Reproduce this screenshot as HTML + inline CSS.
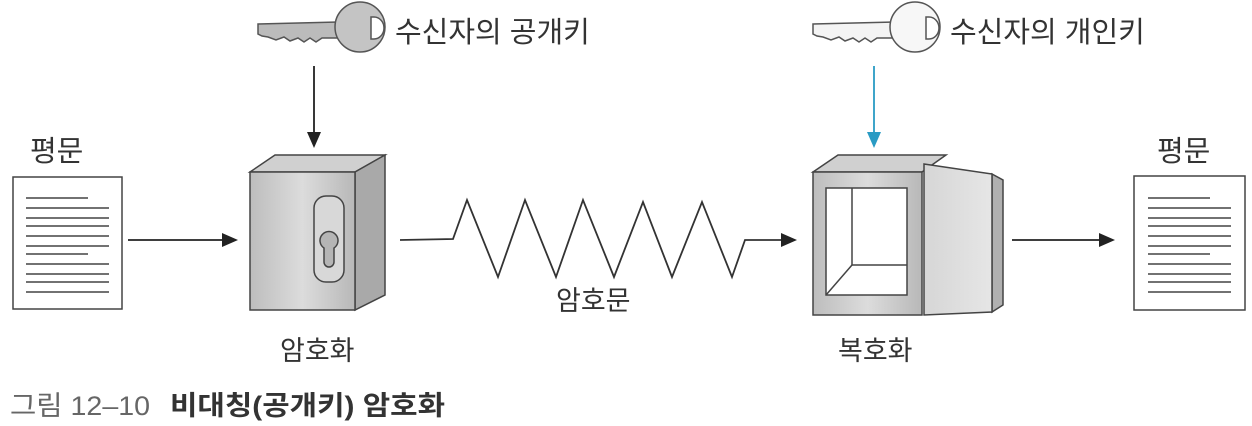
<!DOCTYPE html>
<html><head><meta charset="utf-8"><style>
html,body{margin:0;padding:0;background:#fff;}
svg{display:block;}
text{font-family:"Liberation Sans","Noto Sans CJK KR",sans-serif;}
</style></head><body>
<svg width="1252" height="426" viewBox="0 0 1252 426" xmlns="http://www.w3.org/2000/svg">
<defs>
<linearGradient id="g1" x1="0" x2="1"><stop offset="0" stop-color="#bdbdbd"/><stop offset="0.5" stop-color="#dcdcdc"/><stop offset="1" stop-color="#b8b8b8"/></linearGradient>
<linearGradient id="g2" x1="0" x2="1"><stop offset="0" stop-color="#d6d6d6"/><stop offset="1" stop-color="#e6e6e6"/></linearGradient>
</defs>
<g stroke="#555" stroke-width="1.5">
<path d="M258,24 L338,22 L338,38 L322,38 L316,42 L310,38 L304,42 L298,38 L290,41 L284,37 L276,40 L268,37 L262,36 L258,34 Z" fill="#bbb"/>
<circle cx="360" cy="27" r="25" fill="#c4c4c4"/>
<path d="M371,17 L374,17 A10,11 0 0 1 374,39 L371,39 Z" fill="#fff"/>
</g>
<text x="395" y="42" font-size="29" fill="#333">수신자의 공개키</text>
<g stroke="#555" stroke-width="1.5">
<path d="M813,24 L893,22 L893,38 L877,38 L871,42 L865,38 L859,42 L853,38 L845,41 L839,37 L831,40 L823,37 L817,36 L813,34 Z" fill="#f4f4f4"/>
<circle cx="915" cy="27" r="25" fill="#f7f7f7"/>
<path d="M926,17 L929,17 A10,11 0 0 1 929,39 L926,39 Z" fill="#fff"/>
</g>
<text x="950" y="42" font-size="29" fill="#333">수신자의 개인키</text>
<line x1="314" y1="66" x2="314" y2="135" stroke="#222" stroke-width="1.8"/>
<polygon points="307,132 321,132 314,148" fill="#222"/>
<line x1="874" y1="66" x2="874" y2="135" stroke="#2a9bc4" stroke-width="1.8"/>
<polygon points="867,132 881,132 874,148" fill="#2a9bc4"/>
<text x="30" y="161" font-size="29" fill="#333">평문</text>
<text x="1157" y="161" font-size="29" fill="#333">평문</text>
<text x="280" y="360" font-size="27" fill="#333">암호화</text>
<text x="556" y="310" font-size="27" fill="#333">암호문</text>
<text x="838" y="360" font-size="27" fill="#333">복호화</text>
<rect x="13" y="177" width="109" height="132" fill="#fff" stroke="#444" stroke-width="1.5"/>
<g stroke="#444" stroke-width="1.6">
<line x1="26" y1="198" x2="88" y2="198"/><line x1="26" y1="208" x2="109" y2="208"/><line x1="26" y1="218" x2="109" y2="218"/><line x1="26" y1="226" x2="109" y2="226"/><line x1="26" y1="236" x2="109" y2="236"/><line x1="26" y1="246" x2="109" y2="246"/><line x1="26" y1="254" x2="88" y2="254"/><line x1="26" y1="264" x2="109" y2="264"/><line x1="26" y1="274" x2="109" y2="274"/><line x1="26" y1="282" x2="109" y2="282"/><line x1="26" y1="292" x2="109" y2="292"/>
</g>
<rect x="1134" y="176" width="111" height="134" fill="#fff" stroke="#444" stroke-width="1.5"/>
<g stroke="#444" stroke-width="1.6">
<line x1="1148" y1="198" x2="1210" y2="198"/><line x1="1148" y1="208" x2="1231" y2="208"/><line x1="1148" y1="218" x2="1231" y2="218"/><line x1="1148" y1="226" x2="1231" y2="226"/><line x1="1148" y1="236" x2="1231" y2="236"/><line x1="1148" y1="246" x2="1231" y2="246"/><line x1="1148" y1="254" x2="1210" y2="254"/><line x1="1148" y1="264" x2="1231" y2="264"/><line x1="1148" y1="274" x2="1231" y2="274"/><line x1="1148" y1="282" x2="1231" y2="282"/><line x1="1148" y1="292" x2="1231" y2="292"/>
</g>
<line x1="128" y1="240" x2="226" y2="240" stroke="#222" stroke-width="1.8"/>
<polygon points="222,233 238,240 222,247" fill="#222"/>
<line x1="1012" y1="240" x2="1103" y2="240" stroke="#222" stroke-width="1.8"/>
<polygon points="1099,233 1115,240 1099,247" fill="#222"/>
<polyline points="400,240 453,239 467,200 498,277 525,200 556,277 583,200 614,277 643,202 672,277 702,202 732,277 745,240 785,240" fill="none" stroke="#333" stroke-width="1.8"/>
<polygon points="781,233 797,240 781,247" fill="#222"/>
<g stroke="#444" stroke-width="1.5">
<polygon points="250,172 275,155 385,155 355,172" fill="#d0d0d0"/>
<polygon points="355,172 385,155 385,295 355,310" fill="#a9a9a9"/>
<rect x="250" y="172" width="105" height="138" fill="url(#g1)"/>
<rect x="314" y="196" width="30" height="86" rx="12" fill="#d8d8d8"/>
<path d="M324,262 L324,248 A9,9 0 1 1 334,248 L334,262 A5,5 0 0 1 324,262 Z" fill="#b5b5b5"/>
</g>
<g stroke="#444" stroke-width="1.5">
<polygon points="813,172 838,155 946,155 922,172" fill="#d0d0d0"/>
<rect x="813" y="172" width="109" height="143" fill="url(#g1)"/>
<rect x="826" y="188" width="81" height="107" fill="#fff"/>
<line x1="852" y1="188" x2="852" y2="265"/>
<line x1="852" y1="265" x2="907" y2="265"/>
<line x1="852" y1="265" x2="826" y2="295"/>
<polygon points="992,174 1003,180 1003,305 992,312" fill="#b0b0b0"/>
<polygon points="924,164 992,174 992,312 924,315" fill="url(#g2)"/>
</g>
<text x="10" y="415" font-size="27" fill="#666" textLength="140" lengthAdjust="spacingAndGlyphs">그림 12–10</text>
<text x="170" y="415" font-size="27" font-weight="bold" fill="#333" textLength="275" lengthAdjust="spacingAndGlyphs">비대칭(공개키) 암호화</text>
</svg>
</body></html>
